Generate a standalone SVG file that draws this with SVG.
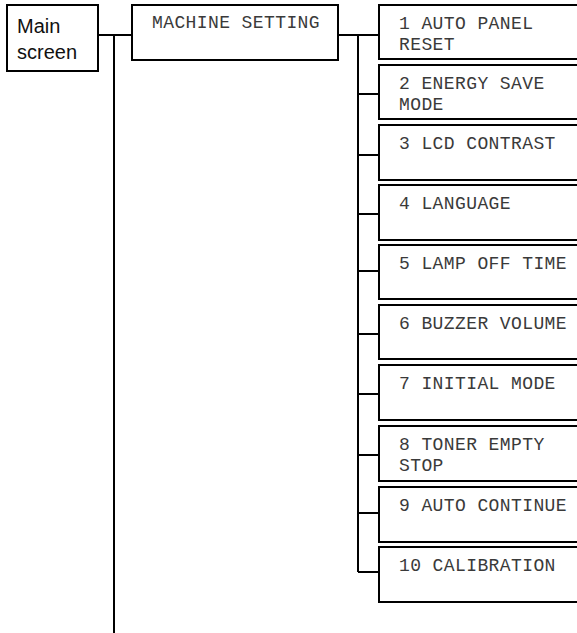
<svg xmlns="http://www.w3.org/2000/svg" width="577" height="633" viewBox="0 0 577 633">
<style>
.box{fill:#fff;stroke:#000;stroke-width:2}
.ln{fill:none;stroke:#000;stroke-width:2}
.sans{font-family:"Liberation Sans",Arial,sans-serif;font-size:20px;fill:#111}
.mono{font-family:"Liberation Mono","Courier New",monospace;font-size:18px;letter-spacing:0.4px;fill:#3a3a3a}
</style>
<rect width="577" height="633" fill="#fff"/>
<g id="connectors">
<path class="ln" d="M98,35 H132 M114,35 V633"/>
<path class="ln" d="M338,35 H379 M358,35 V572"/>
<path class="ln" d="M358,94 H379 M358,155 H379 M358,214 H379 M358,271 H379 M358,334 H379 M358,394 H379 M358,455 H379 M358,513 H379 M358,572 H379"/>
</g>
<g id="main-screen">
<rect class="box" x="7" y="5" width="91" height="66"/>
<text class="sans" x="17" y="33">Main</text>
<text class="sans" x="17" y="59">screen</text>
</g>
<g id="machine-setting">
<rect class="box" x="132" y="5" width="206" height="55"/>
<text class="mono" x="152" y="28">MACHINE SETTING</text>
</g>
<g id="item1">
<rect class="box" x="379" y="5" width="220" height="54"/>
<text class="mono" x="399" y="29">1 AUTO PANEL</text>
<text class="mono" x="399" y="50">RESET</text>
</g>
<g id="item2">
<rect class="box" x="379" y="65" width="220" height="54"/>
<text class="mono" x="399" y="89">2 ENERGY SAVE</text>
<text class="mono" x="399" y="110">MODE</text>
</g>
<g id="item3">
<rect class="box" x="379" y="125" width="220" height="55"/>
<text class="mono" x="399" y="149">3 LCD CONTRAST</text>
</g>
<g id="item4">
<rect class="box" x="379" y="185" width="220" height="55"/>
<text class="mono" x="399" y="209">4 LANGUAGE</text>
</g>
<g id="item5">
<rect class="box" x="379" y="245" width="220" height="54"/>
<text class="mono" x="399" y="269">5 LAMP OFF TIME</text>
</g>
<g id="item6">
<rect class="box" x="379" y="305" width="220" height="54"/>
<text class="mono" x="399" y="329">6 BUZZER VOLUME</text>
</g>
<g id="item7">
<rect class="box" x="379" y="365" width="220" height="55"/>
<text class="mono" x="399" y="389">7 INITIAL MODE</text>
</g>
<g id="item8">
<rect class="box" x="379" y="426" width="220" height="55"/>
<text class="mono" x="399" y="450">8 TONER EMPTY</text>
<text class="mono" x="399" y="471">STOP</text>
</g>
<g id="item9">
<rect class="box" x="379" y="487" width="220" height="55"/>
<text class="mono" x="399" y="511">9 AUTO CONTINUE</text>
</g>
<g id="item10">
<rect class="box" x="379" y="547" width="220" height="55"/>
<text class="mono" x="399" y="571">10 CALIBRATION</text>
</g>
</svg>
